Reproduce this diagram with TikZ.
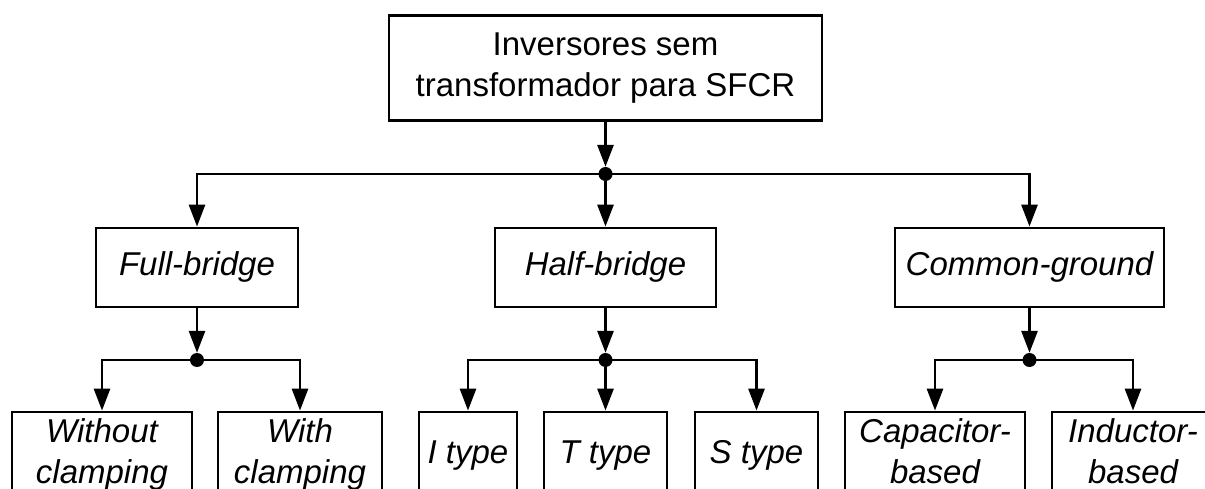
\documentclass[tikz,border=0pt]{standalone}
\usepackage{fontspec}
\setmainfont{Liberation Sans}
\usetikzlibrary{arrows.meta}
\begin{document}
\begin{tikzpicture}[x=1pt,y=-1pt,
  box/.style={draw,line width=2.8pt,inner sep=0pt,align=center,
    font=\fontsize{33}{41}\selectfont},
  kind/.style={box,font=\fontsize{33}{41}\selectfont\itshape},
  junction/.style={circle,fill,draw=none,inner sep=0pt,minimum size=14pt},
  arr/.style={line width=2.8pt,-{Triangle[length=22pt,width=16pt]}}]
\useasboundingbox (0,0) rectangle (1205,489);
\fill[white] (0,0) rectangle (1205,489);
\clip (0,0) rectangle (1205,489);

% root
\node[box,minimum width=433pt,minimum height=105pt] (root) at (605.5,68)
  {\strut Inversores sem\\\strut transformador para SFCR};
\node[junction] (j0) at (605.5,174) {};

% first level
\node[kind,minimum width=202pt,minimum height=79pt] (fb) at (197,267.5) {\strut Full-bridge};
\node[kind,minimum width=221pt,minimum height=79pt] (hb) at (605.5,267.5) {\strut Half-bridge};
\node[kind,minimum width=269pt,minimum height=79pt] (cg) at (1029.5,267.5) {\strut Common-ground};

\node[junction] (j1) at (197,360) {};
\node[junction] (j2) at (605.5,360) {};
\node[junction] (j3) at (1029.5,360) {};

% second level
\node[kind,minimum width=180pt,minimum height=86pt] (wo) at (102,455) {\strut Without\\\strut clamping};
\node[kind,minimum width=164pt,minimum height=86pt] (wi) at (300,455) {\strut With\\\strut clamping};
\node[kind,minimum width=98pt,minimum height=86pt] (it) at (468,455) {\strut I type};
\node[kind,minimum width=123pt,minimum height=86pt] (tt) at (605.5,455) {\strut T type};
\node[kind,minimum width=123pt,minimum height=86pt] (st) at (756.5,455) {\strut S type};
\node[kind,minimum width=180pt,minimum height=86pt] (cb) at (935,455) {\strut Capacitor-\\\strut based};
\node[kind,minimum width=162pt,minimum height=86pt] (ib) at (1133,455) {\strut Inductor-\\\strut based};

% connectors
\draw[arr] (root.south) -- (j0);
\draw[arr] (j0.center) -| (fb.north);
\draw[arr] (j0) -- (hb.north);
\draw[arr] (j0.center) -| (cg.north);

\draw[arr] (fb.south) -- (j1);
\draw[arr] (j1.center) -| (wo.north);
\draw[arr] (j1.center) -| (wi.north);

\draw[arr] (hb.south) -- (j2);
\draw[arr] (j2.center) -| (it.north);
\draw[arr] (j2) -- (tt.north);
\draw[arr] (j2.center) -| (st.north);

\draw[arr] (cg.south) -- (j3);
\draw[arr] (j3.center) -| (cb.north);
\draw[arr] (j3.center) -| (ib.north);
\end{tikzpicture}
\end{document}
